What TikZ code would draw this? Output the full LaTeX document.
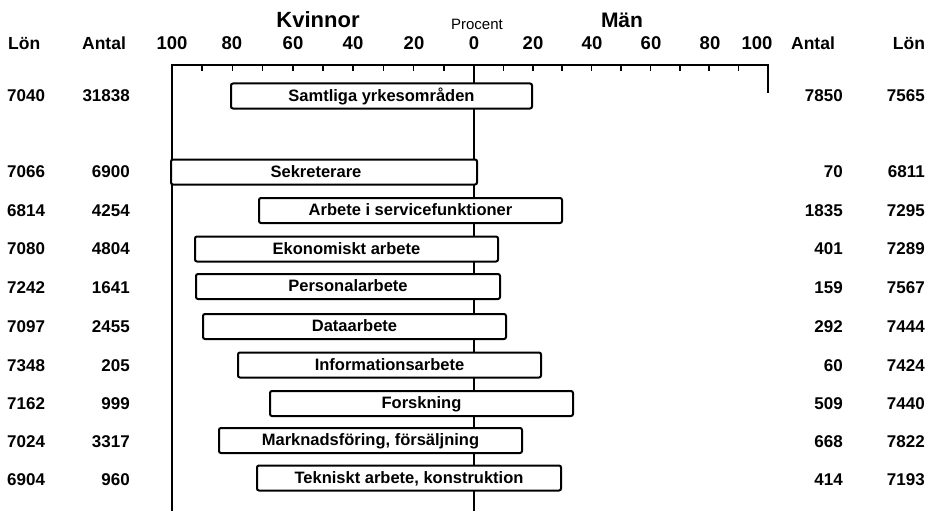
\documentclass[tikz,border=0pt]{standalone}
\usepackage{fontspec}
\setmainfont{Liberation Sans}
\begin{document}
\begin{tikzpicture}[x=1pt,y=-1pt,
  axisline/.style={line width=1.7pt, line cap=rect},
  tickline/.style={line width=1.5pt},
  bar/.style={draw, line width=2pt, rounded corners=2pt, fill=white, inner sep=0pt,
    minimum height=25pt, text height=11.8pt, text depth=1pt,
    font=\fontsize{16.5}{17}\selectfont\bfseries},
  num/.style={inner sep=0pt, font=\fontsize{17}{17}\selectfont\bfseries},
  axnum/.style={inner sep=0pt, anchor=base, font=\fontsize{18.5}{19}\selectfont\bfseries},
  head/.style={inner sep=0pt, anchor=base, font=\fontsize{17.5}{18}\selectfont\bfseries},
  title/.style={inner sep=0pt, anchor=base, font=\fontsize{22}{22}\selectfont\bfseries}]
\useasboundingbox (0,0) rectangle (935,511);
\fill[white] (0,0) rectangle (935,511);

% coordinates of the axis frame
\coordinate (TL) at (172,65);
\coordinate (TR) at (768,65);
\coordinate (TC) at (474,65);
\coordinate (BL) at (172,511);
\coordinate (BC) at (474,511);
\coordinate (RE) at (768,92);

% titles
\node[title] (kv) at (318,28) {Kvinnor};
\node[title, font=\fontsize{21}{21}\selectfont\bfseries] (man) at (622,28) {Män};
\node[head, font=\fontsize{15}{15}\selectfont] (proc) at (477,30) {Procent};

% column headers
\node[head, anchor=base west] (hlonL) at (8,50) {Lön};
\node[head] (hantL) at (104,50) {Antal};
\node[head] (hantR) at (813,50) {Antal};
\node[head] (hlonR) at (909,50) {Lön};

% axis numbers
\foreach \p/\x in {100/172, 80/232, 60/293, 40/353, 20/414}
  \node[axnum] (axL\p) at (\x,50) {\p};
\node[axnum] (ax0) at (474,50) {0};
\foreach \p/\x in {20/533, 40/592, 60/651, 80/710, 100/757}
  \node[axnum] (axR\p) at (\x,50) {\p};

% axis
\draw[axisline] (BL) -- (TL) -- (TR) -- (RE);
\draw[axisline] (TC) -- (BC);
\foreach \p in {10,20,...,90} {
  \draw[tickline] (474-3.02*\p,65) -- ++(0,6);
  \draw[tickline] (474+2.94*\p,65) -- ++(0,6);
}

% bars
\node[bar, minimum width=301pt] (b1) at (381.5,96) {Samtliga yrkesområden};
\node[bar, minimum width=306pt] (b2) at (324,172) {Sekreterare\hspace*{16pt}};
\node[bar, minimum width=303pt] (b3) at (410.5,210.5) {Arbete i servicefunktioner};
\node[bar, minimum width=303pt] (b4) at (346.5,249) {Ekonomiskt arbete};
\node[bar, minimum width=304pt] (b5) at (348,286.5) {Personalarbete};
\node[bar, minimum width=303pt] (b6) at (354.5,326.5) {Dataarbete};
\node[bar, minimum width=303pt] (b7) at (389.5,365) {Informationsarbete};
\node[bar, minimum width=303pt] (b8) at (421.5,403.5) {Forskning};
\node[bar, minimum width=303pt] (b9) at (370.5,440.5) {Marknadsföring, försäljning};
\node[bar, minimum width=304pt] (b10) at (409,478) {Tekniskt arbete, konstruktion};

% numbers
\foreach \i/\y/\a/\b/\c/\d in {
  1/96/7040/31838/7850/7565,
  2/171/7066/6900/70/6811,
  3/210/6814/4254/1835/7295,
  4/248/7080/4804/401/7289,
  5/287/7242/1641/159/7567,
  6/326/7097/2455/292/7444,
  7/365/7348/205/60/7424,
  8/403/7162/999/509/7440,
  9/441/7024/3317/668/7822,
  10/479/6904/960/414/7193} {
  \node[num, anchor=base west] (lonL\i) at (7,\y+6) {\a};
  \node[num, anchor=base east] (antL\i) at (130,\y+6) {\b};
  \node[num, anchor=base east] (antR\i) at (843,\y+6) {\c};
  \node[num, anchor=base east] (lonR\i) at (925,\y+6) {\d};
}
\end{tikzpicture}
\end{document}
